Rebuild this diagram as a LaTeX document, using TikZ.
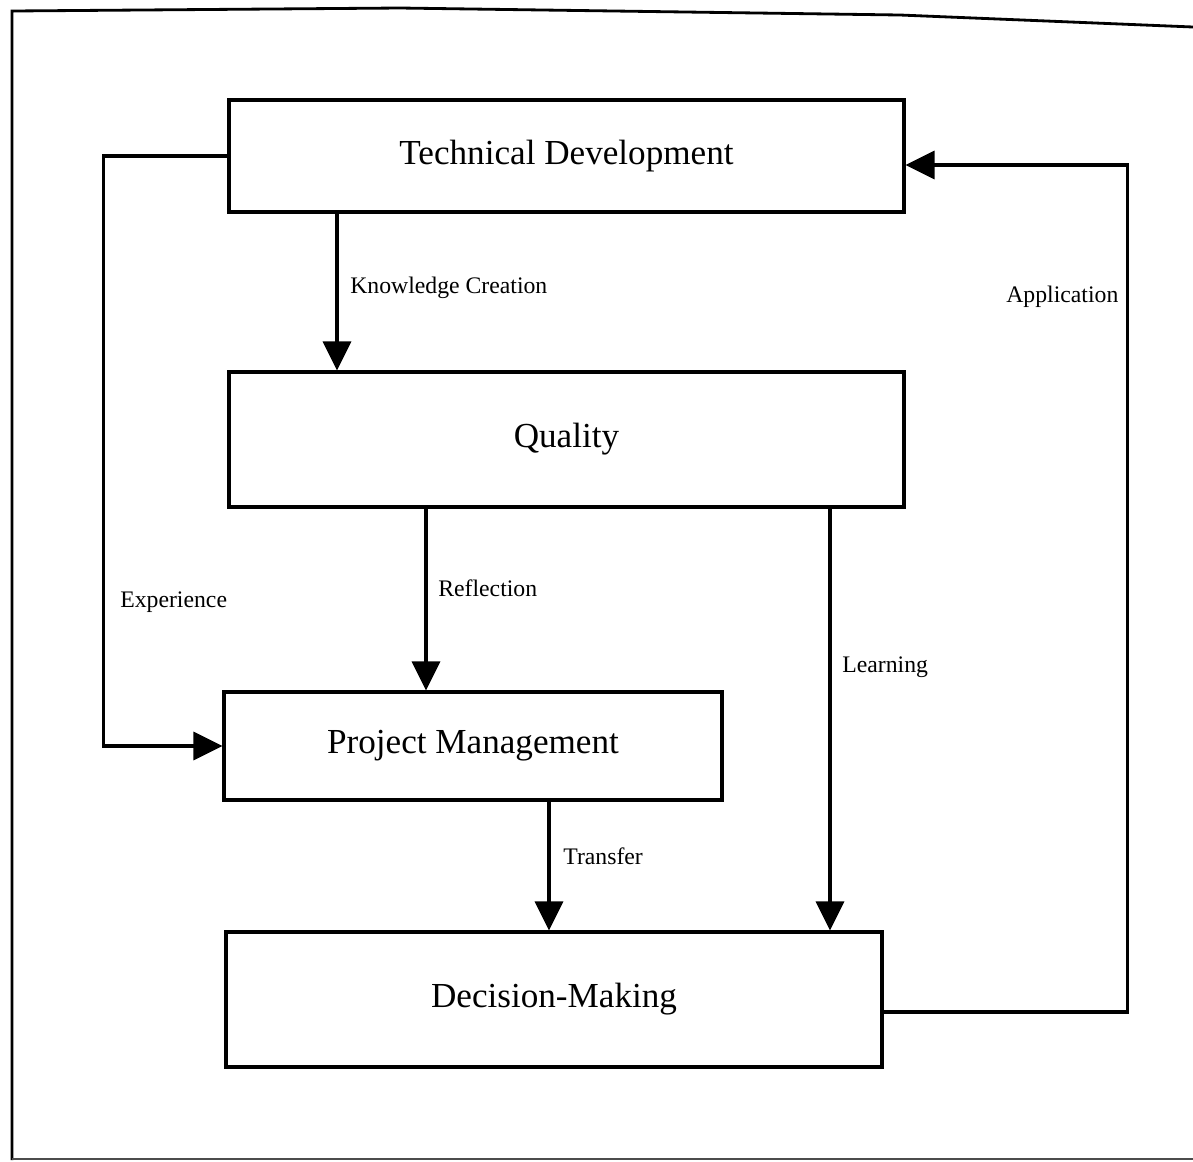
\documentclass[tikz,border=0pt]{standalone}
\usepackage{fontspec}
\setmainfont{Liberation Serif}
\usetikzlibrary{arrows.meta}
\begin{document}
\begin{tikzpicture}[x=0.02cm,y=-0.02cm,
  box/.style={draw,line width=1.8pt,rectangle,inner sep=0pt,font=\fontsize{20}{24}\selectfont},
  arr/.style={line width=1.8pt,-{Triangle[length=0.58cm,width=0.56cm]}},
  lab/.style={anchor=west,inner sep=0pt,font=\fontsize{13.5}{16}\selectfont},
  frame/.style={line width=1.6pt}]
\useasboundingbox (0,0) rectangle (1193,1161);
% outer frame
\draw[frame] (12,1160) -- (12,11) -- (400,8) -- (900,15) -- (1193,27);
\draw[line width=1pt,black!70] (12,1159) -- (1193,1159);
% boxes
\node[box,minimum width=13.5cm,minimum height=2.24cm] (TD) at (566.5,156) {Technical Development};
\node[box,minimum width=13.5cm,minimum height=2.7cm] (Q) at (566.5,439.5) {Quality};
\node[box,minimum width=9.96cm,minimum height=2.16cm] (PM) at (473,746) {Project Management};
\node[box,minimum width=13.12cm,minimum height=2.7cm] (DM) at (554,999.5) {Decision-Making};
% x positions of vertical connectors
\coordinate (xkc) at (337,0);
\coordinate (xre) at (426,0);
\coordinate (xle) at (830,0);
\coordinate (xtr) at (549,0);
% connectors
\draw[arr] (TD.south -| xkc) -- (Q.north -| xkc);
\draw[arr] (Q.south -| xre) -- (PM.north -| xre);
\draw[arr] (Q.south -| xle) -- (DM.north -| xle);
\draw[arr] (PM.south -| xtr) -- (DM.north -| xtr);
\draw[arr] (TD.west) -- ++(-124,0) |- (PM.west);
\draw[arr] ([yshift=-0.25cm]DM.east) -- ++(244,0) |- ([yshift=-0.18cm]TD.east);
% labels
\node[lab] (lkc) at (350,288) {Knowledge Creation};
\node[lab] (lre) at (438,588) {Reflection};
\node[lab] (lle) at (842,667) {Learning};
\node[lab] (ltr) at (563,856) {Transfer};
\node[lab] (lex) at (120,602) {Experience};
\node[lab] (lap) at (1006,297) {Application};
\end{tikzpicture}
\end{document}
